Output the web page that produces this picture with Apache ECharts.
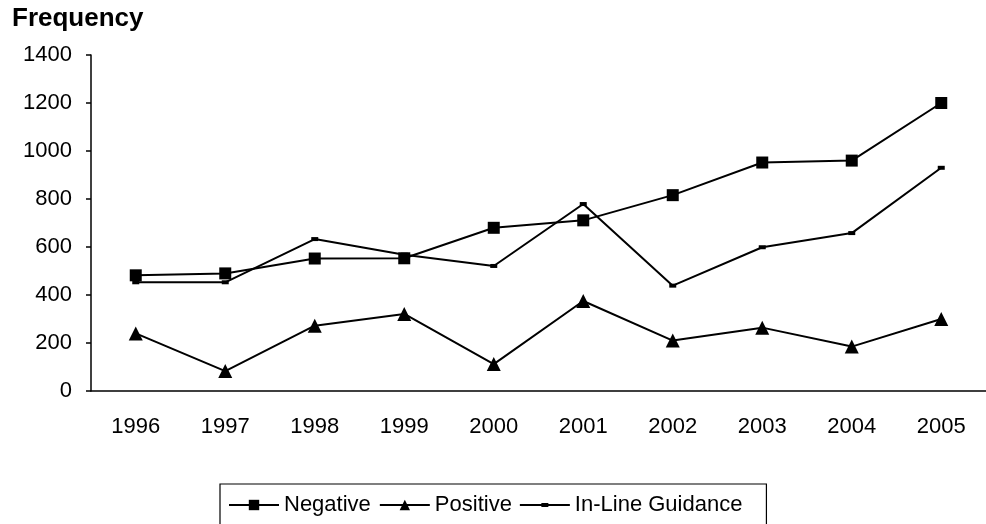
<!DOCTYPE html>
<html>
<head>
<meta charset="utf-8">
<script src="https://cdn.jsdelivr.net/npm/echarts@6/dist/echarts.min.js"></script>
<style>html,body{margin:0;padding:0;background:#fff}#c{width:986px;height:524px}</style>
</head>
<body>
<div id="c"></div>
<script>
const years = ['1996','1997','1998','1999','2000','2001','2002','2003','2004','2005'];
const negative = [482, 490, 552, 553, 680, 711, 816, 952, 960, 1200];
const positive = [240, 83, 272, 321, 112, 375, 210, 264, 185, 300];
const inLine = [453, 453, 633, 568, 521, 779, 439, 599, 658, 930];
const yTicks = {min: 0, max: 1400, interval: 200};

const FONT = 'Liberation Sans, Arial, sans-serif';
const chart = echarts.init(document.getElementById('c'), null, {renderer: 'canvas'});
const lineStyle = {color: '#000', width: 2};
const inLineIcon = 'path://M0,5.5 L21.5,5.5 L21.5,4.5 L28.5,4.5 L28.5,5.5 L50,5.5 L50,7.5 L28.5,7.5 L28.5,8.5 L21.5,8.5 L21.5,7.5 L0,7.5 Z';
chart.setOption({
  animation: false,
  backgroundColor: '#fff',
  title: {
    text: 'Frequency', left: 7, top: 1,
    textStyle: {fontFamily: FONT, fontSize: 26, fontWeight: 'bold', color: '#000'}
  },
  grid: {left: 91, top: 55, width: 898, height: 336, containLabel: false},
  legend: {
    left: 220, top: 484,
    padding: [10, 24, 30, 8],
    borderColor: '#000', borderWidth: 1.2,
    itemWidth: 50, itemHeight: 13, itemGap: 8,
    symbolKeepAspect: true,
    textStyle: {fontFamily: FONT, fontSize: 22, color: '#000'},
    data: [
      {name: 'Negative'},
      {name: 'Positive'},
      {name: 'In-Line Guidance', icon: inLineIcon}
    ]
  },
  xAxis: {
    type: 'category', data: years, boundaryGap: true,
    axisLine: {lineStyle: {color: '#000', width: 1.5}},
    axisTick: {length: 7, lineStyle: {color: '#000', width: 1.5}},
    axisLabel: {color: '#000', fontFamily: FONT, fontSize: 22, margin: 25},
    splitLine: {show: false}
  },
  yAxis: {
    type: 'value', min: yTicks.min, max: yTicks.max, interval: yTicks.interval,
    axisLine: {show: true, lineStyle: {color: '#000', width: 1.5}},
    axisTick: {show: true, length: 5, lineStyle: {color: '#000', width: 1.5}},
    axisLabel: {color: '#000', fontFamily: FONT, fontSize: 22, margin: 19,
      formatter: v => String(v)},
    splitLine: {show: false}
  },
  series: [
    {name: 'Negative', type: 'line', data: negative, symbol: 'rect', symbolSize: 12,
     itemStyle: {color: '#000'}, lineStyle: lineStyle},
    {name: 'Positive', type: 'line', data: positive, symbol: 'triangle', symbolSize: 14,
     itemStyle: {color: '#000'}, lineStyle: lineStyle},
    {name: 'In-Line Guidance', type: 'line', data: inLine, symbol: 'rect', symbolSize: [7, 4],
     itemStyle: {color: '#000'}, lineStyle: lineStyle}
  ]
});
</script>
</body>
</html>
